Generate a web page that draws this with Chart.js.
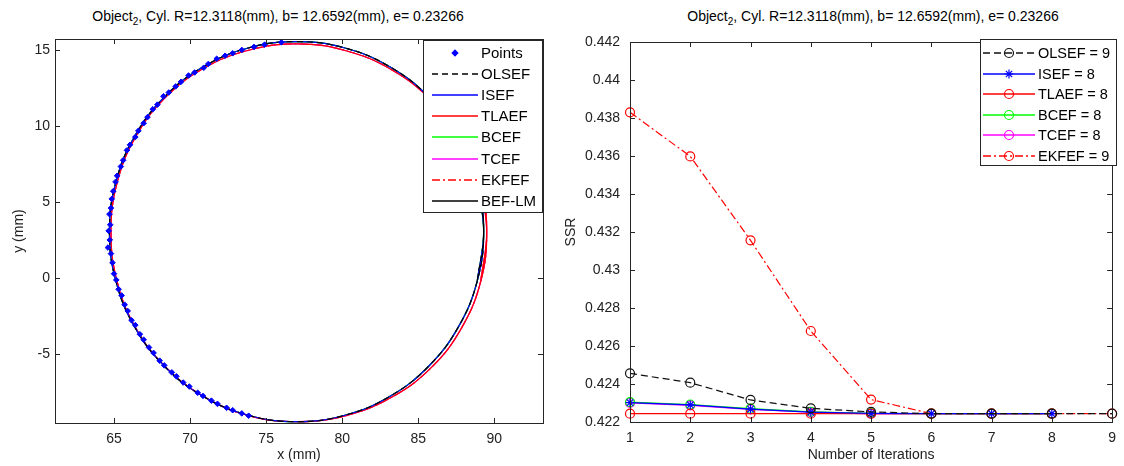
<!DOCTYPE html>
<html lang="en">
<head>
<meta charset="UTF-8">
<title>Object2 cylinder fit and SSR</title>
<script src="https://cdn.jsdelivr.net/npm/chart.js"></script>
<style>
  body { margin: 0; background: #fff; font-family: 'Liberation Sans', Arial, sans-serif; }
  .wrap { position: relative; width: 1124px; height: 466px; overflow: hidden; }
  .wrap canvas { position: absolute; top: 0; }
  #left { left: 0; }
  #right { left: 562px; }
  .title { position: absolute; top: 8px; font-size: 14px; line-height: 16px; color: #000; white-space: nowrap; transform: translateX(-50%); }
  .title sub { font-size: 10px; line-height: 0; vertical-align: -4px; }
</style>
</head>
<body>
<div class="wrap">
  <div class="title" style="left:278px">Object<sub>2</sub>, Cyl. R=12.3118(mm), b= 12.6592(mm), e= 0.23266</div>
  <div class="title" style="left:873px">Object<sub>2</sub>, Cyl. R=12.3118(mm), b= 12.6592(mm), e= 0.23266</div>
  <canvas id="left" width="562" height="466"></canvas>
  <canvas id="right" width="562" height="466"></canvas>
</div>

<script>
  // measured points (left arc of the section)
  const ptsX = [76.0, 74.9, 74.2, 73.4, 72.8, 72.3, 71.75, 71.2, 70.9, 70.3, 69.9, 69.4, 69.05, 68.6, 68.25, 67.85, 67.55, 67.2, 66.95, 66.6, 66.4, 66.05, 65.85, 65.6, 65.45, 65.2, 65.1, 64.95, 64.85, 64.8, 64.7, 64.75, 64.65, 64.72, 64.6, 64.8, 64.9, 65.0, 65.15, 65.3, 65.5, 65.7, 65.9, 66.15, 66.4, 66.7, 66.95, 67.3, 67.6, 68.0, 68.3, 68.8, 69.1, 69.55, 69.95, 70.5, 70.85, 71.4, 71.8, 72.4, 72.8, 73.4, 73.85];
  const ptsY = [15.5, 15.35, 15.2, 15.0, 14.78, 14.62, 14.42, 14.08, 13.83, 13.52, 13.32, 12.9, 12.6, 12.2, 11.95, 11.4, 11.1, 10.58, 10.18, 9.68, 9.27, 8.76, 8.4, 7.74, 7.33, 6.72, 6.32, 5.71, 5.2, 4.6, 4.2, 3.5, 3.1, 2.5, 2.0, 1.6, 1.0, 0.28, -0.13, -0.74, -1.15, -1.76, -2.17, -2.78, -3.1, -3.7, -4.06, -4.57, -4.93, -5.44, -5.75, -6.21, -6.47, -6.88, -7.14, -7.55, -7.76, -8.07, -8.28, -8.54, -8.7, -8.91, -9.06];

  // fitted section outlines (first/last points overlap so the loop closes smoothly)
  const fitX = [88.88, 89.3, 88.88, 87.65, 85.7, 83.15, 80.18, 77.0, 73.82, 70.85, 68.3, 66.35, 65.12, 64.7, 65.12, 66.35, 68.3, 70.85, 73.82, 77.0, 80.18, 83.15, 85.7, 87.65, 88.88, 89.3, 88.88];
  const fitY = [-0.19, 3.05, 6.29, 9.30, 11.89, 13.88, 15.13, 15.55, 15.13, 13.88, 11.89, 9.30, 6.29, 3.05, -0.19, -3.20, -5.79, -7.78, -9.03, -9.45, -9.03, -7.78, -5.79, -3.20, -0.19, 3.05, 6.29];
  const redX = [89.1, 89.5, 89.1, 87.85, 85.85, 83.25, 80.25, 77.05, 73.85, 70.9, 68.35, 66.4, 65.2, 64.8, 65.2, 66.4, 68.35, 70.9, 73.85, 77.05, 80.25, 83.3, 85.9, 87.85, 89.1, 89.5, 89.1];
  const redY = [-0.25, 3.0, 6.2, 9.15, 11.7, 13.7, 14.95, 15.4, 14.98, 13.8, 11.85, 9.25, 6.25, 3.0, -0.22, -3.25, -5.82, -7.8, -9.05, -9.45, -9.05, -7.82, -5.85, -3.28, -0.25, 3.0, 6.2];

  const xTicksLeft = [65, 70, 75, 80, 85, 90];
  const yTicksLeft = [-5, 0, 5, 10, 15];

  // SSR per iteration
  const iterations = ['1', '2', '3', '4', '5', '6', '7', '8', '9'];
  const ssrOLSEF = [0.42456, 0.42407, 0.42316, 0.42272, 0.42253, 0.42244, 0.42244, 0.42244, 0.42244];
  const ssrISEF  = [0.42302, 0.42290, 0.42268, 0.42252, 0.42245, 0.42244, 0.42244, 0.42244];
  const ssrTLAEF = [0.42244, 0.42244, 0.42244, 0.42244, 0.42244, 0.42244, 0.42244, 0.42244];
  const ssrBCEF  = [0.42305, 0.42292, 0.42270, 0.42254, 0.42245, 0.42244, 0.42244, 0.42244];
  const ssrTCEF  = [0.42300, 0.42288, 0.42266, 0.42252, 0.42243, 0.42244, 0.42244, 0.42244];
  const ssrEKFEF = [0.43830, 0.43598, 0.43156, 0.42679, 0.42318, 0.42244, 0.42244, 0.42244, 0.42244];
  const yTicksRight = [0.422, 0.424, 0.426, 0.428, 0.43, 0.432, 0.434, 0.436, 0.438, 0.44, 0.442];

  const FONT = "'Liberation Sans', Arial, sans-serif";
  const AXIS = '#262626';

  const toXY = (xs, ys) => xs.map((x, i) => ({ x: x, y: ys[i] }));

  function marker(ctx, style, r, x, y) {
    ctx.beginPath();
    if (style === 'circle') {
      ctx.arc(x, y, r, 0, Math.PI * 2);
      ctx.stroke();
    } else if (style === 'rectRot') {
      ctx.moveTo(x, y - r); ctx.lineTo(x + r, y); ctx.lineTo(x, y + r); ctx.lineTo(x - r, y); ctx.closePath();
      ctx.fill(); ctx.stroke();
    } else if (style === 'star') {
      for (let k = 0; k < 4; k++) {
        const a = k * Math.PI / 4;
        ctx.moveTo(x - r * Math.cos(a), y - r * Math.sin(a));
        ctx.lineTo(x + r * Math.cos(a), y + r * Math.sin(a));
      }
      ctx.stroke();
    }
  }

  // box + inward ticks like the original axes
  const frame = {
    id: 'frame',
    afterDatasetsDraw(chart) {
      const { ctx, chartArea: a } = chart;
      const x = chart.scales.x, y = chart.scales.y;
      ctx.save();
      ctx.strokeStyle = AXIS;
      ctx.lineWidth = 1;
      ctx.setLineDash([]);
      ctx.strokeRect(Math.round(a.left) + 0.5, Math.round(a.top) + 0.5, Math.round(a.right - a.left), Math.round(a.bottom - a.top));
      ctx.beginPath();
      x.ticks.forEach((t, i) => {
        const px = Math.round(x.getPixelForTick(i)) + 0.5;
        ctx.moveTo(px, a.bottom); ctx.lineTo(px, a.bottom - 5);
        ctx.moveTo(px, a.top); ctx.lineTo(px, a.top + 5);
      });
      y.ticks.forEach((t, i) => {
        const py = Math.round(y.getPixelForTick(i)) + 0.5;
        ctx.moveTo(a.left, py); ctx.lineTo(a.left + 5, py);
        ctx.moveTo(a.right, py); ctx.lineTo(a.right - 5, py);
      });
      ctx.stroke();
      ctx.restore();
    }
  };

  // legend box drawn inside the plot
  const boxLegend = {
    id: 'boxLegend',
    afterDraw(chart, args, o) {
      const ctx = chart.ctx;
      ctx.save();
      ctx.fillStyle = '#fff';
      ctx.fillRect(o.x, o.y, o.w, o.h);
      ctx.strokeStyle = AXIS;
      ctx.lineWidth = 1;
      ctx.setLineDash([]);
      ctx.strokeRect(o.x + 0.5, o.y + 0.5, o.w, o.h);
      chart.data.datasets.forEach((ds, i) => {
        const cy = Math.round(o.firstY + i * o.rowH);
        if (ds.showLine !== false) {
          ctx.strokeStyle = ds.borderColor;
          ctx.lineWidth = o.lineWidth;
          ctx.setLineDash(ds.borderDash || []);
          ctx.beginPath();
          ctx.moveTo(o.lineX0, cy); ctx.lineTo(o.lineX1, cy);
          ctx.stroke();
        }
        ctx.setLineDash([]);
        if (ds.pointRadius > 0) {
          ctx.strokeStyle = ds.pointBorderColor || ds.borderColor;
          ctx.fillStyle = ds.pointBackgroundColor || ds.borderColor;
          ctx.lineWidth = 1.2;
          marker(ctx, ds.pointStyle, ds.pointRadius, (o.lineX0 + o.lineX1) / 2, cy);
        }
        ctx.fillStyle = '#000';
        ctx.font = o.fontSize + 'px ' + FONT;
        ctx.textBaseline = 'middle';
        ctx.textAlign = 'left';
        ctx.fillText(ds.label, o.textX, cy + 1);
      });
      ctx.restore();
    }
  };

  function fitSet(label, xs, ys, color, dash) {
    return {
      label: label, data: toXY(xs, ys), showLine: true, tension: 0.4,
      borderColor: color, borderWidth: 1.2, borderDash: dash, pointRadius: 0
    };
  }

  function ssrSet(label, values, color, dash, style) {
    return {
      label: label, data: values, borderColor: color, borderWidth: 1.2, borderDash: dash,
      pointStyle: style, pointRadius: 4.5, pointBorderColor: color, pointBorderWidth: 1.2,
      pointBackgroundColor: 'rgba(0,0,0,0)', tension: 0
    };
  }

  const tickFont = { family: FONT, size: 14 };
  const titleFont = { family: FONT, size: 14 };

  new Chart(document.getElementById('left'), {
    type: 'scatter',
    data: {
      datasets: [
        { label: 'Points', data: toXY(ptsX, ptsY), showLine: false, pointStyle: 'rectRot', pointRadius: 2.8,
          pointBackgroundColor: '#0000ff', pointBorderColor: '#0000ff', borderColor: '#0000ff', pointBorderWidth: 1 },
        fitSet('OLSEF', fitX, fitY, '#000000', [6, 4]),
        fitSet('ISEF', fitX, fitY, '#0000ff', []),
        fitSet('TLAEF', redX, redY, '#ff0000', []),
        fitSet('BCEF', fitX, fitY, '#00ff00', []),
        fitSet('TCEF', redX, redY, '#ff00ff', []),
        fitSet('EKFEF', redX, redY, '#ff0000', [8, 3, 2, 3]),
        fitSet('BEF-LM', fitX, fitY, '#000000', [])
      ]
    },
    options: {
      responsive: false,
      animation: false,
      layout: { padding: { top: 39, right: 19, left: 0, bottom: 0 } },
      plugins: {
        legend: { display: false },
        tooltip: { enabled: false },
        boxLegend: { x: 423, y: 40, w: 119, h: 172, firstY: 52.5, rowH: 21.2, lineX0: 432, lineX1: 478, textX: 481, fontSize: 15, lineWidth: 1.5 }
      },
      scales: {
        x: {
          type: 'linear', min: 61.12, max: 93.2,
          afterBuildTicks: s => { s.ticks = xTicksLeft.map(v => ({ value: v })); },
          afterFit: s => { s.height = 43; },
          grid: { display: false, drawTicks: false },
          border: { display: false },
          ticks: { padding: 8, font: tickFont, color: '#222', maxRotation: 0, callback: v => String(v) },
          title: { display: true, text: 'x (mm)', font: titleFont, color: '#222', padding: { top: 0, bottom: 2 } }
        },
        y: {
          type: 'linear', min: -9.54, max: 15.72,
          afterBuildTicks: s => { s.ticks = yTicksLeft.map(v => ({ value: v })); },
          afterFit: s => { s.width = 55; },
          grid: { display: false, drawTicks: false },
          border: { display: false },
          ticks: { padding: 5, font: tickFont, color: '#222', callback: v => String(v) },
          title: { display: true, text: 'y (mm)', font: titleFont, color: '#222', padding: { top: 11, bottom: 0 } }
        }
      }
    },
    plugins: [frame, boxLegend]
  });

  new Chart(document.getElementById('right'), {
    type: 'line',
    data: {
      labels: iterations,
      datasets: [
        ssrSet('OLSEF = 9', ssrOLSEF, '#111111', [7, 4], 'circle'),
        ssrSet('ISEF = 8', ssrISEF, '#0000ff', [], 'star'),
        ssrSet('TLAEF = 8', ssrTLAEF, '#ff0000', [], 'circle'),
        ssrSet('BCEF = 8', ssrBCEF, '#00ff00', [], 'circle'),
        ssrSet('TCEF = 8', ssrTCEF, '#ff00ff', [], 'circle'),
        ssrSet('EKFEF = 9', ssrEKFEF, '#ff0000', [8, 3, 2, 3], 'circle')
      ]
    },
    options: {
      responsive: false,
      animation: false,
      layout: { padding: { top: 42, right: 8, left: 0, bottom: 0 } },
      plugins: {
        legend: { display: false },
        tooltip: { enabled: false },
        boxLegend: { x: 418, y: 39, w: 136, h: 126, firstY: 53, rowH: 20.6, lineX0: 421, lineX1: 473, textX: 476, fontSize: 14.5, lineWidth: 1.5 }
      },
      scales: {
        x: {
          type: 'category', offset: false,
          afterFit: s => { s.height = 44; },
          grid: { display: false, drawTicks: false },
          border: { display: false },
          ticks: { padding: 8, font: tickFont, color: '#222', maxRotation: 0 },
          title: { display: true, text: 'Number of Iterations', font: titleFont, color: '#222', padding: { top: 0, bottom: 2 } }
        },
        y: {
          type: 'linear', min: 0.422, max: 0.442,
          afterBuildTicks: s => { s.ticks = yTicksRight.map(v => ({ value: v })); },
          afterFit: s => { s.width = 68; },
          grid: { display: false, drawTicks: false },
          border: { display: false },
          ticks: { padding: 10, font: tickFont, color: '#222', callback: v => String(+v.toFixed(3)) },
          title: { display: true, text: 'SSR', font: titleFont, color: '#222', padding: { top: 1, bottom: 0 } }
        }
      }
    },
    plugins: [frame, boxLegend]
  });
</script>
</body>
</html>
